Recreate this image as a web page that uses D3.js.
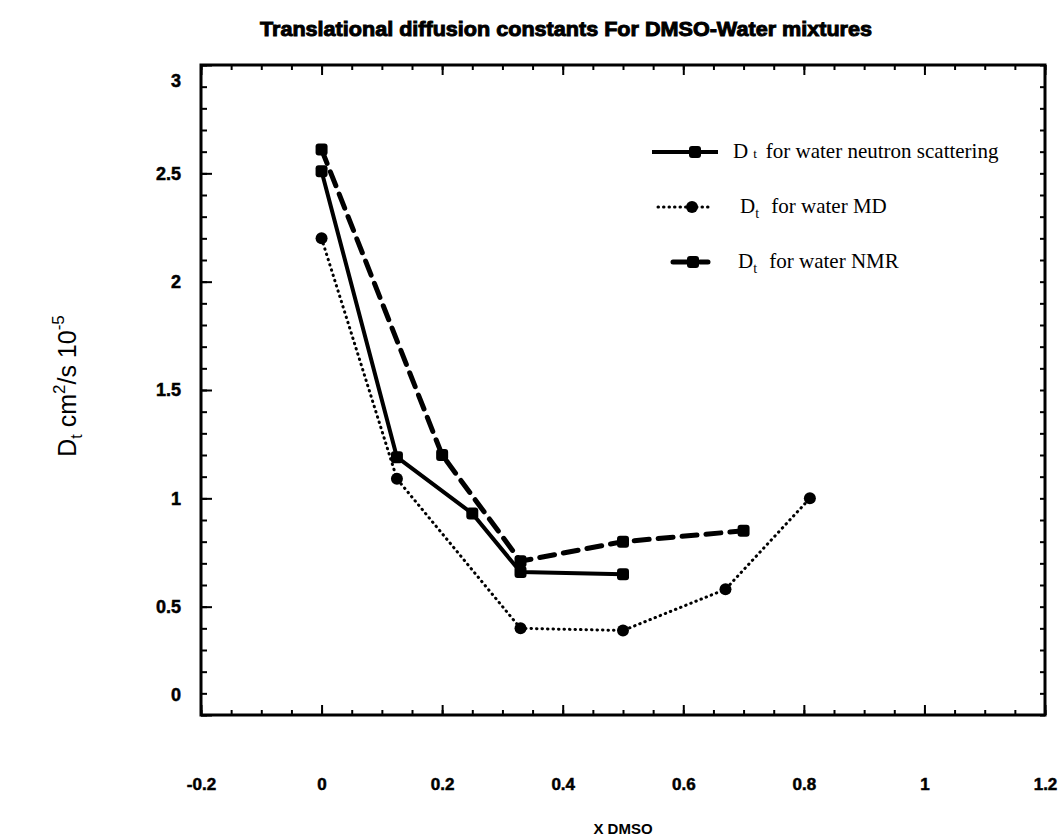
<!DOCTYPE html>
<html>
<head>
<meta charset="utf-8">
<script src="https://cdn.jsdelivr.net/npm/d3@7"></script>
<style>
    body { margin: 0; background: #fff; }
    .tick text { font-family: "Liberation Sans", Arial, sans-serif; font-weight: bold; fill: #000; stroke: #000; stroke-width: 0.5px; }
</style>
</head>
<body>
<div id="chart"></div>
<script>
// series
const neutronX = [0, 0.125, 0.25, 0.33, 0.5];
const neutronY = [2.51, 1.19, 0.93, 0.66, 0.65];
const mdX = [0, 0.125, 0.33, 0.5, 0.67, 0.81];
const mdY = [2.2, 1.09, 0.40, 0.39, 0.58, 1.0];
const nmrX = [0, 0.2, 0.33, 0.5, 0.7];
const nmrY = [2.61, 1.2, 0.71, 0.80, 0.85];

const xTicks = [-0.2, 0, 0.2, 0.4, 0.6, 0.8, 1, 1.2];
const yTicks = [0, 0.5, 1, 1.5, 2, 2.5, 3];
const legendLabels = ["for water neutron scattering", "for water MD", "for water  NMR"];

const W = 1064, H = 838;
const margin = {top: 65, right: 19, bottom: 123, left: 201};
const width = W - margin.left - margin.right;
const height = H - margin.top - margin.bottom;

const svg = d3.select("#chart").append("svg")
    .attr("width", W)
    .attr("height", H);

const g = svg.append("g")
    .attr("transform", `translate(${margin.left}, ${margin.top})`);

const x = d3.scaleLinear().domain([-0.2, 1.2]).range([0, width]);
const y = d3.scaleLinear().domain([0, 3]).range([height, 0]);

// minor ticks
const xMinor = d3.range(-0.2, 1.2001, 0.05).map(v => +v.toFixed(2));
const yMinor = d3.range(0, 3.001, 0.1).map(v => +v.toFixed(1));

function styleAxis(sel) {
    sel.select(".domain").remove();
    sel.selectAll(".tick line").attr("stroke", "#000").attr("stroke-width", 2);
}

// bottom
g.append("g").attr("transform", `translate(0, ${height})`)
    .call(d3.axisBottom(x).tickValues(xMinor).tickSize(-5).tickFormat(""))
    .call(styleAxis);
g.append("g").attr("class", "xaxis").attr("transform", `translate(0, ${height})`)
    .call(d3.axisBottom(x).tickValues(xTicks).tickSize(-10).tickPadding(63).tickFormat(d => String(d)))
    .call(styleAxis);
// top
g.append("g")
    .call(d3.axisTop(x).tickValues(xMinor).tickSize(-5).tickFormat(""))
    .call(styleAxis);
g.append("g")
    .call(d3.axisTop(x).tickValues(xTicks).tickSize(-10).tickFormat(""))
    .call(styleAxis);
// left
g.append("g")
    .call(d3.axisLeft(y).tickValues(yMinor).tickSize(-6).tickFormat(""))
    .call(styleAxis);
g.append("g").attr("class", "yaxis")
    .call(d3.axisLeft(y).tickValues(yTicks).tickSize(-11).tickPadding(20).tickFormat(d => String(d)))
    .call(styleAxis);
// right
g.append("g").attr("transform", `translate(${width}, 0)`)
    .call(d3.axisRight(y).tickValues(yMinor).tickSize(-5).tickFormat(""))
    .call(styleAxis);

// first and last y labels sit inside the frame
g.selectAll(".yaxis .tick text")
    .attr("font-size", 18)
    .attr("dy", d => d === 0 ? "-0.8em" : d === 3 ? "1.2em" : "0.32em");
g.selectAll(".xaxis .tick text").attr("font-size", 17);

// frame
g.append("rect")
    .attr("width", width).attr("height", height)
    .attr("fill", "none").attr("stroke", "#000").attr("stroke-width", 3);

// series
const series = [
    {name: "neutron", xs: neutronX, ys: neutronY, width: 4, dash: null, cap: "butt", marker: "square"},
    {name: "md", xs: mdX, ys: mdY, width: 3, dash: "0.5,5", cap: "round", marker: "circle"},
    {name: "nmr", xs: nmrX, ys: nmrY, width: 5, dash: "15,9", cap: "round", marker: "square"}
];

const line = d3.line().x(d => x(d[0])).y(d => y(d[1]));

series.forEach(s => {
    const pts = s.xs.map((v, i) => [v, s.ys[i]]);
    g.append("path")
        .datum(pts)
        .attr("d", line)
        .attr("fill", "none")
        .attr("stroke", "#000")
        .attr("stroke-width", s.width)
        .attr("stroke-linecap", s.cap)
        .attr("stroke-linejoin", "round")
        .attr("stroke-dasharray", s.dash);
    drawMarkers(g, pts.map(p => [x(p[0]), y(p[1])]), s.marker);
});

function drawMarkers(parent, coords, type) {
    if (type === "circle") {
        parent.selectAll(null).data(coords).enter().append("circle")
            .attr("cx", d => d[0]).attr("cy", d => d[1]).attr("r", 6).attr("fill", "#000");
    } else {
        parent.selectAll(null).data(coords).enter().append("rect")
            .attr("x", d => d[0] - 6).attr("y", d => d[1] - 6)
            .attr("width", 12).attr("height", 12).attr("rx", 3).attr("fill", "#000");
    }
}

// legend
const legend = svg.append("g").attr("transform", "translate(652, 152)");
const legendRows = [
    {y: 0, x1: 0, x2: 66, mx: 43, tx: 81, s: series[0]},
    {y: 55, x1: 6, x2: 60, mx: 40, tx: 88, s: series[1]},
    {y: 110, x1: 21, x2: 56, mx: 41, tx: 86, s: series[2]}
];
legendRows.forEach((r, i) => {
    legend.append("line")
        .attr("x1", r.x1).attr("x2", r.x2).attr("y1", r.y).attr("y2", r.y)
        .attr("stroke", "#000")
        .attr("stroke-width", r.s.width)
        .attr("stroke-linecap", r.s.cap)
        .attr("stroke-dasharray", i === 2 ? "20,7,8" : r.s.dash);
    drawMarkers(legend, [[r.mx, r.y]], r.s.marker);
    const t = legend.append("text")
        .attr("x", r.tx).attr("y", r.y + 6)
        .attr("font-family", "Liberation Serif, Times New Roman, serif")
        .attr("font-size", 21);
    t.append("tspan").text("D");
    if (i === 0) {
        t.append("tspan").attr("dx", 5).attr("font-size", 13).text("t");
    } else {
        t.append("tspan").attr("dy", 5).attr("font-size", 14).text("t");
        t.append("tspan").attr("dy", -5).text(" ");
    }
    t.append("tspan").attr("dx", i === 0 ? 9 : 7).text(legendLabels[i]);
});

// title
svg.append("text")
    .attr("x", 566).attr("y", 36)
    .attr("text-anchor", "middle")
    .attr("font-family", "Liberation Sans, Arial, sans-serif")
    .attr("font-weight", "bold")
    .attr("font-size", 21)
    .attr("stroke", "#000")
    .attr("stroke-width", 1)
    .attr("textLength", 612)
    .attr("lengthAdjust", "spacingAndGlyphs")
    .text("Translational diffusion constants For DMSO-Water mixtures");

// x axis title
svg.append("text")
    .attr("x", 623).attr("y", 834)
    .attr("text-anchor", "middle")
    .attr("font-family", "Liberation Sans, Arial, sans-serif")
    .attr("font-weight", "bold")
    .attr("font-size", 15)
    .text("X DMSO");

// y axis title
const yt = svg.append("text")
    .attr("transform", "translate(76, 386) rotate(-90)")
    .attr("text-anchor", "middle")
    .attr("font-family", "Liberation Sans, Arial, sans-serif")
    .attr("font-size", 25);
yt.append("tspan").text("D");
yt.append("tspan").attr("dy", 6).attr("font-size", 16).text("t");
yt.append("tspan").attr("dy", -6).text(" cm");
yt.append("tspan").attr("dy", -11).attr("font-size", 17).text("2");
yt.append("tspan").attr("dy", 11).text("/s  10");
yt.append("tspan").attr("dy", -12).attr("font-size", 17).text("-5");
</script>
</body>
</html>
